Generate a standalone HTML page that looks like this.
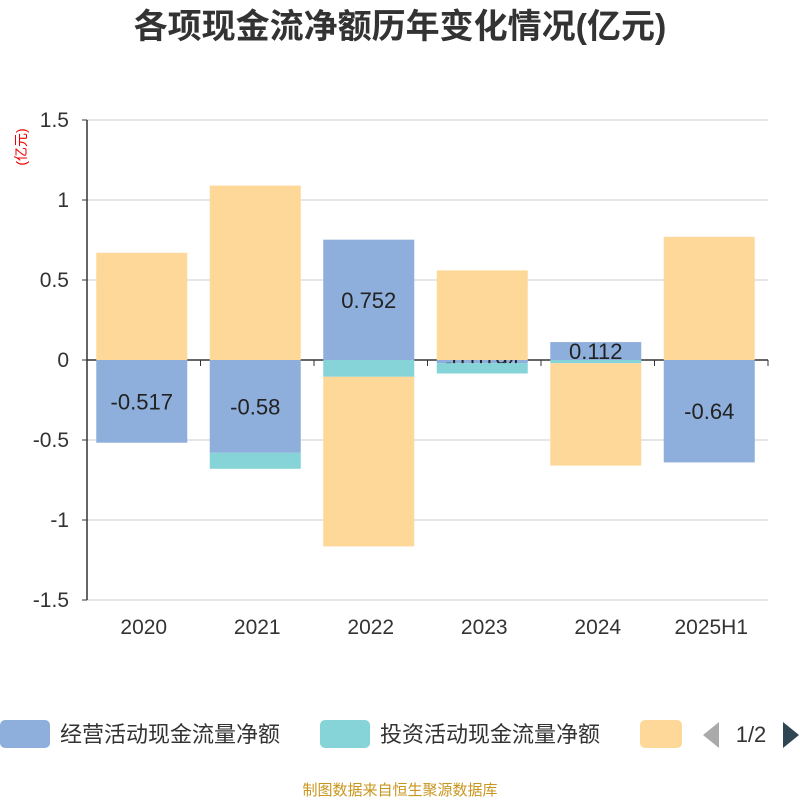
<!DOCTYPE html>
<html><head><meta charset="utf-8"><style>
body{margin:0;background:#fff;font-family:"Liberation Sans","Noto Sans CJK SC",sans-serif;}
</style></head><body>
<svg width="800" height="800" xmlns="http://www.w3.org/2000/svg" id="chart" font-family="Liberation Sans, Noto Sans CJK SC, sans-serif">
<text x="400" y="38" text-anchor="middle" font-size="34" font-weight="bold" fill="#333">各项现金流净额历年变化情况(亿元)</text>
<text transform="translate(26,147) rotate(-90)" text-anchor="middle" font-size="14" fill="#e00">(亿元)</text>
<g id="grid"></g><g id="bars"></g>
<g>
<rect x="0" y="720" width="50" height="28" rx="5" fill="#8eaedb"/>
<text x="60" y="742" font-size="22" fill="#333">经营活动现金流量净额</text>
<rect x="320" y="720" width="50" height="28" rx="5" fill="#86d4d8"/>
<text x="380" y="742" font-size="22" fill="#333">投资活动现金流量净额</text>
<rect x="640" y="720" width="42" height="28" rx="5" fill="#fed899"/>
<polygon points="719,722 703,735 719,748" fill="#aaa"/>
<text x="751" y="742" text-anchor="middle" font-size="22" fill="#333">1/2</text>
<polygon points="783,722 799,735 783,748" fill="#2f4554"/>
</g>
<text x="400" y="795" text-anchor="middle" font-size="15" fill="#c8961e">制图数据来自恒生聚源数据库</text>
</svg>
<script>
const categories=["2020","2021","2022","2023","2024","2025H1"];
const operating=[-0.517,-0.58,0.752,-0.0194,0.112,-0.64];
const investing=[0,-0.1,-0.105,-0.065,-0.02,0];
const financing=[0.67,1.09,-1.06,0.56,-0.64,0.77];
const yTicks=[1.5,1,0.5,0,-0.5,-1,-1.5];
const yTickLabels=["1.5","1","0.5","0","-0.5","-1","-1.5"];
const NS="http://www.w3.org/2000/svg";
const x0=87,x1=768,yTop=120,yBot=600,yMax=1.5,yMin=-1.5;
const Y=v=>yTop+(yMax-v)/(yMax-yMin)*(yBot-yTop);
const band=(x1-x0)/categories.length;
const X=i=>x0+band*i;
function mk(tag,attrs,parent){const e=document.createElementNS(NS,tag);for(const k in attrs)e.setAttribute(k,attrs[k]);parent.appendChild(e);return e;}
const grid=document.getElementById('grid'),bars=document.getElementById('bars');
yTicks.forEach((t,i)=>{
 const l=mk('line',{x1:x0,x2:x1,y1:Y(t),y2:Y(t),stroke:t===0?'#333':'#ccc','stroke-width':t===0?1.5:1},grid);
 
 
 const tk=mk('line',{x1:x0-5,x2:x0,y1:Y(t),y2:Y(t),stroke:'#333'},grid);
 
 
 const tx=mk('text',{x:x0-18,y:Y(t)+7,'text-anchor':'end','font-size':21,fill:'#333'},grid);
 tx.textContent=yTickLabels[i];
 
 
});
const ax=mk('line',{x1:x0,x2:x0,y1:yTop,y2:yBot,stroke:'#333','stroke-width':1.5},grid);


categories.forEach((c,i)=>{
 const tk=mk('line',{x1:X(i+1),x2:X(i+1),y1:Y(0),y2:Y(0)+6,stroke:'#333'},grid);
 
 
 const tx=mk('text',{x:X(i)+band/2,y:634,'text-anchor':'middle','font-size':21,fill:'#333'},grid);
 tx.textContent=c;
 
 
});
const series=[[operating,'#8eaedb','bar-operating'],[investing,'#86d4d8','bar-investing'],[financing,'#fed899','bar-financing']];
const bw=91;
const pos=categories.map(()=>0),neg=categories.map(()=>0);
series.forEach(([arr,col,nm])=>{
 categories.forEach((c,i)=>{
  const v=arr[i];if(!v)return;
  let a,b;
  if(v>=0){a=pos[i];b=a+v;pos[i]=b;}else{a=neg[i];b=a+v;neg[i]=b;}
  const yy=Math.min(Y(a),Y(b)),h=Math.abs(Y(a)-Y(b));
  const r=mk('rect',{x:X(i)+(band-bw)/2-2,y:yy,width:bw,height:h,fill:col},bars);
  
  
  if(arr===operating){
   const t=mk('text',{x:X(i)+band/2-2,y:yy+h/2+8,'text-anchor':'middle','font-size':22,fill:'#222'},bars);
   t.textContent=String(v);
   
   
  }
 });
});
</script>
</body></html>
